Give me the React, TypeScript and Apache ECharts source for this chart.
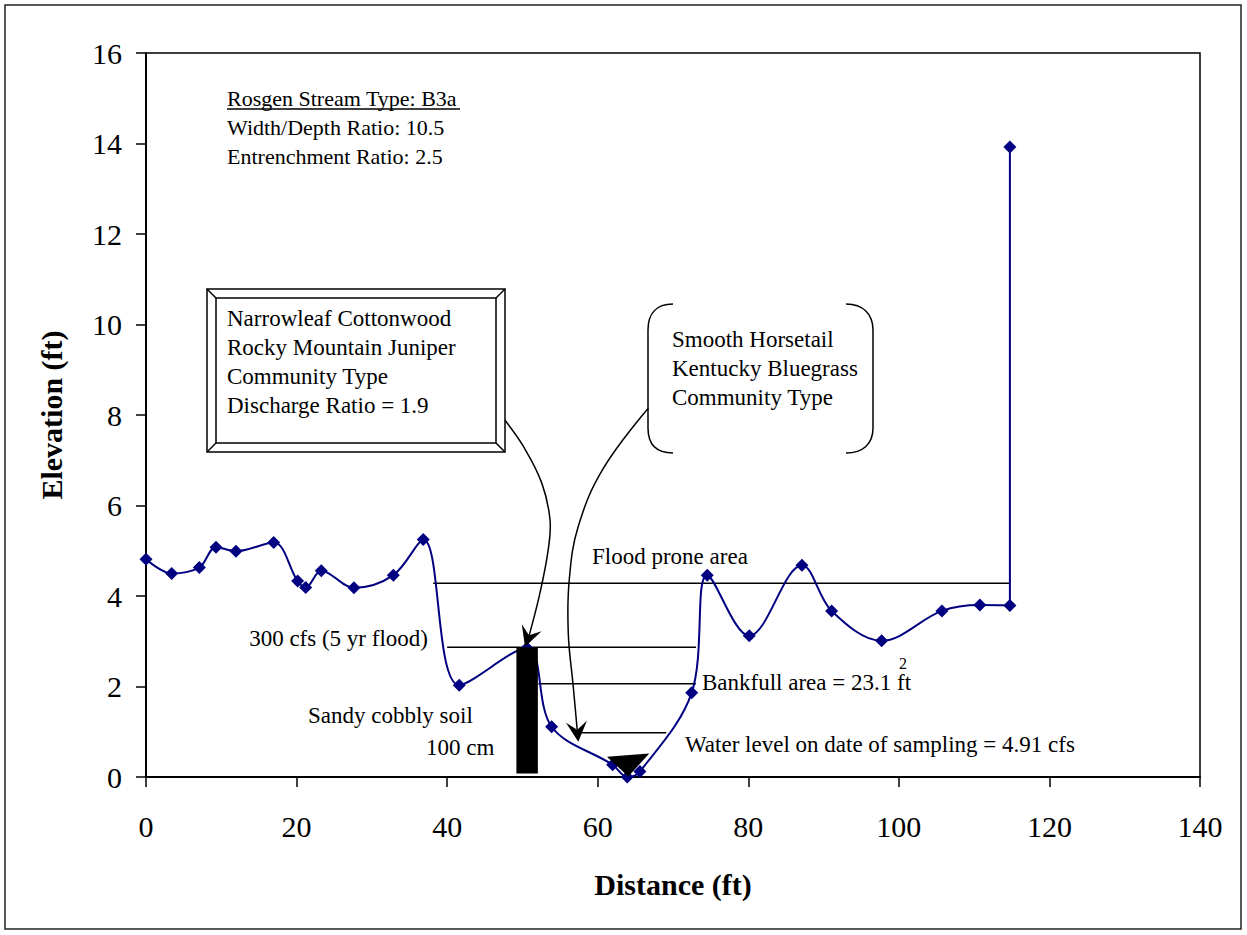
import React, { useEffect, useRef } from "react";
import * as echarts from "echarts";

// Surveyed cross-section profile
const distance = [0, 3.41, 7.08, 9.3, 11.95, 16.96, 20.14, 21.21, 23.28, 27.62, 32.85, 36.83, 41.61, 50.6, 53.88, 61.98, 63.92, 65.61, 72.48, 74.55, 80.13, 87.13, 91.07, 97.71, 105.72, 110.76, 114.75, 114.75];
const elevation = [4.81, 4.5, 4.63, 5.08, 4.99, 5.18, 4.33, 4.19, 4.56, 4.18, 4.46, 5.25, 2.03, 2.85, 1.11, 0.27, 0.0, 0.12, 1.86, 4.46, 3.12, 4.68, 3.67, 3.01, 3.67, 3.8, 3.79, 13.92];

// Horizontal water-level lines
const levelElev = [4.28, 2.87, 2.06, 0.98];
const levelStart = [38.15, 40.0, 52.1, 57.6];
const levelEnd = [114.75, 73.05, 73.05, 69.1];

// Soil pit bar: x0, y0, x1, y1
const soilPit = [49.2, 0.08, 52.05, 2.87];

// Water surface triangle
const triX = [61.23, 66.85, 64.06];
const triY = [0.45, 0.52, 0.01];

// Callout arrows
const arrow1X = [47.55, 50.11, 52.56, 53.66, 53.43, 52.33, 51.0, 50.34];
const arrow1Y = [7.91, 7.31, 6.5, 5.69, 5.03, 4.07, 3.19, 2.88];
const arrow2X = [66.72, 60.74, 57.42, 56.22, 56.09, 56.75, 57.42];
const arrow2Y = [8.15, 6.82, 5.54, 4.36, 3.18, 2.0, 0.78];
const arrowsX = [arrow1X, arrow2X];
const arrowsY = [arrow1Y, arrow2Y];

const FONT = "'Liberation Serif', 'Times New Roman', serif";

export default function App() {
  const ref = useRef<HTMLDivElement>(null);
  useEffect(() => {
    if (!ref.current) return;
    const chart = echarts.init(ref.current, null, { renderer: "svg" });
    const txt = (text: string, x: number, y: number, extra: any = {}) => ({
      type: "text",
      x,
      y,
      z: 100,
      style: {
        text,
        fontFamily: FONT,
        fontSize: 23,
        fill: "#000",
        textAlign: "left",
        textVerticalAlign: "middle",
        ...extra,
      },
    });
    const ln = (x1: number, y1: number, x2: number, y2: number) => ({
      type: "line",
      z: 100,
      shape: { x1, y1, x2, y2 },
      style: { stroke: "#000", lineWidth: 1.5 },
    });
    const bz = (x1: number, y1: number, cpx1: number, cpy1: number, cpx2: number, cpy2: number, x2: number, y2: number) => ({
      type: "bezierCurve",
      z: 100,
      shape: { x1, y1, cpx1, cpy1, cpx2, cpy2, x2, y2 },
      style: { stroke: "#000", lineWidth: 1.5, fill: null },
    });

    const levelSeries = levelElev.map((y, i) => ({
      type: "line",
      data: [
        [levelStart[i], y],
        [levelEnd[i], y],
      ],
      symbol: "none",
      silent: true,
      z: 1,
      lineStyle: { color: "#000", width: 1.5 },
    }));

    const option: any = {
      animation: false,
      backgroundColor: "#fff",
      grid: {
        left: 146,
        right: 47,
        top: 53,
        bottom: 158,
        show: true,
        borderColor: "#000",
        borderWidth: 1.5,
        backgroundColor: "transparent",
      },
      xAxis: {
        type: "value",
        min: 0,
        max: 140,
        interval: 20,
        name: "Distance (ft)",
        nameLocation: "middle",
        nameGap: 92,
        nameTextStyle: { fontFamily: FONT, fontSize: 30, fontWeight: "bold", color: "#000" },
        axisLine: { show: true, onZero: false, lineStyle: { color: "#000", width: 2 } },
        axisTick: { show: true, inside: false, length: 10, lineStyle: { color: "#000", width: 1.5 } },
        axisLabel: { fontFamily: FONT, fontSize: 30, color: "#000", margin: 34 },
        splitLine: { show: false },
      },
      yAxis: {
        type: "value",
        min: 0,
        max: 16,
        interval: 2,
        name: "Elevation (ft)",
        nameLocation: "middle",
        nameGap: 80,
        nameTextStyle: { fontFamily: FONT, fontSize: 30, fontWeight: "bold", color: "#000" },
        axisLine: { show: true, lineStyle: { color: "#000", width: 2 } },
        axisTick: { show: true, inside: false, length: 10, lineStyle: { color: "#000", width: 1.5 } },
        axisLabel: { fontFamily: FONT, fontSize: 30, color: "#000", margin: 24 },
        splitLine: { show: false },
      },
      series: [
        ...levelSeries,
        {
          type: "line",
          name: "Profile",
          data: distance.map((d, i) => [d, elevation[i]]),
          smooth: 0.35,
          symbol: "diamond",
          symbolSize: 13,
          z: 2,
          itemStyle: { color: "#000080" },
          lineStyle: { color: "#000080", width: 2 },
        },
        {
          type: "custom",
          name: "Soil pit",
          z: 5,
          clip: false,
          data: [soilPit],
          encode: { x: [0, 2], y: [1, 3] },
          renderItem: (params: any, api: any) => {
            const p0 = api.coord([api.value(0), api.value(3)]);
            const p1 = api.coord([api.value(2), api.value(1)]);
            return {
              type: "rect",
              shape: { x: p0[0], y: p0[1], width: p1[0] - p0[0], height: p1[1] - p0[1] },
              style: { fill: "#000" },
            };
          },
        },
        {
          type: "custom",
          name: "Water surface",
          z: 5,
          clip: false,
          data: [[triX[2], triY[2]]],
          encode: { x: 0, y: 1 },
          renderItem: (params: any, api: any) => {
            const pts = triX.map((x, i) => api.coord([x, triY[i]]));
            return { type: "polygon", shape: { points: pts }, style: { fill: "#000" } };
          },
        },
        {
          type: "custom",
          name: "Arrows",
          z: 6,
          clip: false,
          data: arrowsX.map((xs, i) => [xs[xs.length - 1], arrowsY[i][arrowsY[i].length - 1], i]),
          encode: { x: 0, y: 1 },
          renderItem: (params: any, api: any) => {
            const idx = api.value(2);
            const xs = arrowsX[idx];
            const ys = arrowsY[idx];
            const pts = xs.map((x, i) => api.coord([x, ys[i]]));
            const tip = pts[pts.length - 1];
            const prev = pts[pts.length - 2];
            let dx = tip[0] - prev[0];
            let dy = tip[1] - prev[1];
            const len = Math.hypot(dx, dy) || 1;
            dx /= len;
            dy /= len;
            const nx = -dy;
            const ny = dx;
            const L = 20;
            const W = 10.5;
            const base = [tip[0] - L * dx, tip[1] - L * dy];
            const notch = [tip[0] - 0.6 * L * dx, tip[1] - 0.6 * L * dy];
            const head = [tip, [base[0] + W * nx, base[1] + W * ny], notch, [base[0] - W * nx, base[1] - W * ny]];
            const linePts = pts.slice(0, -1).concat([notch]);
            return {
              type: "group",
              children: [
                { type: "polyline", shape: { points: linePts, smooth: 0.4 }, style: { stroke: "#000", lineWidth: 1.5, fill: null } },
                { type: "polygon", shape: { points: head }, style: { fill: "#000" } },
              ],
            };
          },
        },
      ],
      graphic: [
        { type: "rect", z: 0, silent: true, shape: { x: 5, y: 5, width: 1236, height: 924 }, style: { fill: "none", stroke: "#222", lineWidth: 1.5 } },
        // top-left info
        txt("Rosgen Stream Type: B3a", 227, 98, { fontSize: 22 }),
        ln(227, 109, 460, 109),
        txt("Width/Depth Ratio: 10.5", 227, 127, { fontSize: 22 }),
        txt("Entrenchment Ratio: 2.5", 227, 156, { fontSize: 22 }),
        // Narrowleaf box
        { type: "rect", z: 99, shape: { x: 207, y: 289, width: 298, height: 163 }, style: { fill: "#fff", stroke: "#000", lineWidth: 1.5 } },
        { type: "rect", z: 100, shape: { x: 216, y: 298, width: 280, height: 145 }, style: { fill: "none", stroke: "#000", lineWidth: 1.5 } },
        ln(207, 289, 216, 298),
        ln(505, 289, 496, 298),
        ln(207, 452, 216, 443),
        ln(505, 452, 496, 443),
        txt("Narrowleaf Cottonwood", 227, 318),
        txt("Rocky Mountain Juniper", 227, 347),
        txt("Community Type", 227, 376),
        txt("Discharge Ratio = 1.9", 227, 405),
        // Smooth Horsetail bracket box
        bz(673, 304, 656, 304, 648, 314, 648, 330),
        ln(648, 330, 648, 428),
        bz(648, 428, 648, 444, 656, 453, 673, 453),
        bz(846, 304, 863, 304, 873, 314, 873, 330),
        ln(873, 330, 873, 428),
        bz(873, 428, 873, 444, 863, 453, 846, 453),
        txt("Smooth Horsetail", 672, 339),
        txt("Kentucky Bluegrass", 672, 368),
        txt("Community Type", 672, 397),
        // level annotations
        txt("Flood prone area", 592, 556),
        txt("300 cfs (5 yr flood)", 428, 638, { textAlign: "right" }),
        txt("Sandy cobbly soil", 308, 715),
        txt("100 cm", 426, 747),
        txt("Bankfull area = 23.1 ft", 702, 682),
        txt("2", 903, 663, { fontSize: 16, textAlign: "center" }),
        txt("Water level on date of sampling = 4.91 cfs", 685, 744),
      ],
    };
    chart.setOption(option);
    return () => chart.dispose();
  }, []);
  return <div ref={ref} style={{ position: "fixed", left: 0, top: 0, width: 1247, height: 935 }} />;
}
